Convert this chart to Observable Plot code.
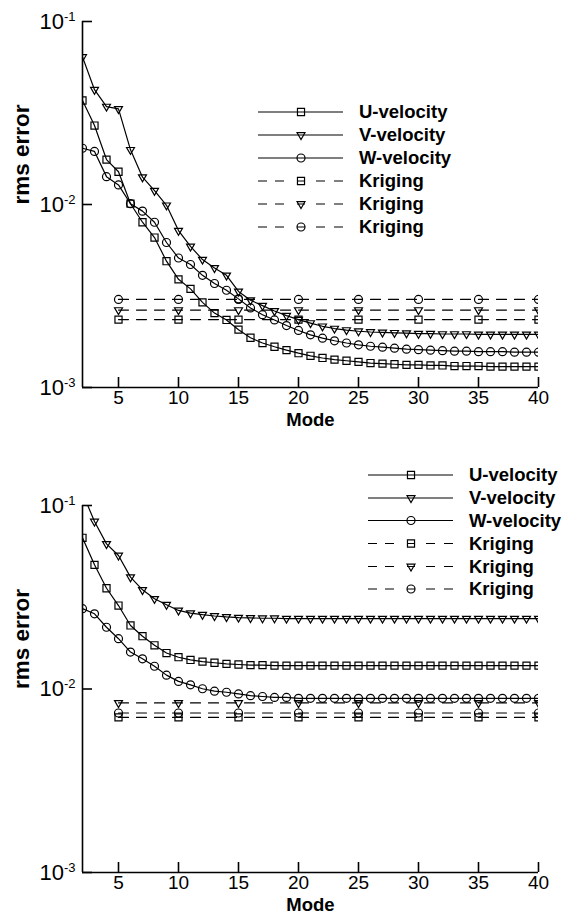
<!DOCTYPE html>
<html><head><meta charset="utf-8">
<script src="https://cdn.jsdelivr.net/npm/d3@7"></script>
<script src="https://cdn.jsdelivr.net/npm/@observablehq/plot@0.6"></script>
<style>
html,body{margin:0;padding:0;background:#fff;}
#wrap{width:564px;}
#wrap svg{display:block;}
</style></head><body><div id="wrap"></div>
<script>
// ---------- data ----------
const modes = [2,3,4,5,6,7,8,9,10,11,12,13,14,15,16,17,18,19,20,21,22,23,24,25,26,27,28,29,30,31,32,33,34,35,36,37,38,39,40];

const topU = [0.0370,0.0270,0.0176,0.0151,0.0101,0.0080,0.0066,0.0049,0.0039,0.00346,0.00292,0.00255,0.00234,0.00207,0.00187,0.00175,0.00167,0.00160,0.00154,0.00149,0.00145,0.00142,0.00140,0.00138,0.00136,0.00135,0.00134,0.00133,0.00133,0.00132,0.00132,0.00131,0.00131,0.00131,0.00130,0.00130,0.00130,0.00130,0.00130];
const topV = [0.0640,0.0424,0.0343,0.0333,0.0199,0.0141,0.0119,0.0099,0.0072,0.0059,0.0050,0.0045,0.0041,0.00335,0.00300,0.00280,0.00262,0.00247,0.00235,0.00225,0.00216,0.00210,0.00206,0.00203,0.00201,0.00200,0.00199,0.00198,0.00197,0.00197,0.00196,0.00196,0.00196,0.00195,0.00195,0.00195,0.00195,0.00195,0.00195];
const topW = [0.0203,0.0195,0.0142,0.0128,0.0101,0.0092,0.0080,0.0062,0.0051,0.0047,0.0041,0.0037,0.0034,0.00305,0.00272,0.00250,0.00234,0.00218,0.00205,0.00194,0.00186,0.00180,0.00175,0.00171,0.00168,0.00166,0.00164,0.00162,0.00161,0.00160,0.00159,0.00158,0.00158,0.00157,0.00157,0.00157,0.00156,0.00156,0.00156];
const topKriging = {U: 0.00235, V: 0.00265, W: 0.00303};

const botU = [0.0667,0.0475,0.0354,0.0285,0.0222,0.0194,0.0173,0.0157,0.0149,0.0144,0.0141,0.0139,0.0137,0.0136,0.0135,0.0135,0.0134,0.0134,0.0134,0.0134,0.0134,0.0134,0.0134,0.0134,0.0134,0.0134,0.0134,0.0134,0.0134,0.0134,0.0134,0.0134,0.0134,0.0134,0.0134,0.0134,0.0134,0.0134,0.0134];
const botV = [0.117,0.0818,0.0618,0.0534,0.0407,0.0347,0.0310,0.0288,0.0268,0.0259,0.0254,0.0250,0.0247,0.0245,0.0244,0.0243,0.0243,0.0242,0.0242,0.0242,0.0242,0.0242,0.0242,0.0242,0.0242,0.0242,0.0242,0.0242,0.0242,0.0242,0.0242,0.0242,0.0242,0.0242,0.0242,0.0242,0.0242,0.0242,0.0242];
const botW = [0.0274,0.0257,0.0217,0.0188,0.0159,0.0146,0.0133,0.0119,0.0110,0.01054,0.01003,0.00973,0.0096,0.0094,0.0092,0.0091,0.0090,0.0090,0.0089,0.0089,0.0089,0.0089,0.0089,0.0089,0.0089,0.0089,0.0089,0.0089,0.0089,0.0089,0.0089,0.0089,0.0089,0.0089,0.0089,0.0089,0.0089,0.0089,0.0089];
const botKriging = {U: 0.0070, V: 0.0084, W: 0.0074};

const krigingModes = [5,10,15,20,25,30,35,40];

const xTicks = [5,10,15,20,25,30,35,40];
const yTicks = [0.001,0.01,0.1];
const yTickExponents = ["-3","-2","-1"];

const legendLabels = ["U-velocity","V-velocity","W-velocity","Kriging","Kriging","Kriging"];
const xLabel = "Mode";
const yLabel = "rms error";

// ---------- styling ----------
const FONT = "'Liberation Sans', Arial, Helvetica, sans-serif";
const LW = 1.2;

const triangleDown = {
  draw(context, size) {
    const w = Math.sqrt(size) * 1.12;
    const h = w * Math.sqrt(3) / 2;
    context.moveTo(-w / 2, -h / 3);
    context.lineTo(w / 2, -h / 3);
    context.lineTo(0, 2 * h / 3);
    context.closePath();
  }
};
const seriesSymbols = {U: "square", V: triangleDown, W: "circle"};
const d3Symbols = {U: d3.symbolSquare, V: triangleDown, W: d3.symbolCircle};

function makeChart({U, V, W, kriging, height, marginTop, marginBottom, legendYs, legendX}) {
  const solid = {U, V, W};
  const marks = [];
  for (const key of ["U", "V", "W"]) {
    const rows = modes.map((m, i) => ({mode: m, value: solid[key][i]}));
    marks.push(Plot.line(rows, {x: "mode", y: "value", stroke: "#000", strokeWidth: LW, clip: true}));
    marks.push(Plot.dot(rows, {x: "mode", y: "value", symbol: seriesSymbols[key], r: 4, stroke: "#000", strokeWidth: LW, fill: "none", clip: true}));
  }
  for (const key of ["U", "V", "W"]) {
    const rows = krigingModes.map(m => ({mode: m, value: kriging[key]}));
    marks.push(Plot.line(rows, {x: "mode", y: "value", stroke: "#000", strokeWidth: LW, strokeDasharray: "10,8", clip: true}));
    marks.push(Plot.dot(rows, {x: "mode", y: "value", symbol: seriesSymbols[key], r: 4, stroke: "#000", strokeWidth: LW, fill: "none", clip: true}));
  }
  marks.push(
    Plot.ruleX([2], {stroke: "#000", strokeWidth: 1.6}),
    Plot.ruleY([0.001], {stroke: "#000", strokeWidth: 1.6}),
    Plot.axisY(yTicks, {tickSize: -10, fill: "none", stroke: "#000", strokeWidth: 1.6, label: null}),
    Plot.axisY(yTicks, {tickSize: 0, tickPadding: 7, fontSize: 22, fill: "#000", label: null,
      tickFormat: d => "10^" + yTickExponents[yTicks.indexOf(d)]}),
    Plot.axisX(xTicks, {tickSize: -10, fill: "none", stroke: "#000", strokeWidth: 1.6, label: null}),
    Plot.axisX(xTicks, {tickSize: 0, tickPadding: 3, fontSize: 19, fill: "#000", label: null, tickFormat: d => String(d)}),
    Plot.text([xLabel], {text: d => d, frameAnchor: "bottom", dy: 38, lineAnchor: "bottom", fontWeight: "bold", fontSize: 18.5, fill: "#000"}),
    Plot.text([yLabel], {text: d => d, frameAnchor: "left", dx: -61, rotate: -90, fontWeight: "bold", fontSize: 22.5, fill: "#000"})
  );
  const svg = Plot.plot({
    width: 564, height, marginLeft: 82, marginRight: 26, marginTop, marginBottom,
    x: {type: "linear", domain: [2, 40], label: null},
    y: {type: "log", domain: [0.001, 0.1], label: null},
    style: {fontFamily: FONT, color: "#000", background: "#fff", overflow: "visible"},
    marks
  });

  // superscript exponents on y tick labels
  d3.select(svg).selectAll('g[aria-label="y-axis tick label"] text').each(function () {
    const s = this.textContent;
    const m = s.match(/^10\^(.*)$/);
    if (!m) return;
    const t = d3.select(this);
    t.text(null);
    t.append("tspan").text("10");
    t.append("tspan").attr("dy", -8).attr("font-size", 13).text(m[1]);
  });

  // legend
  const keys = ["U", "V", "W", "U", "V", "W"];
  const g = d3.select(svg).append("g").attr("aria-label", "legend").attr("text-anchor", "start");
  const x0 = legendX, x1 = legendX + 85, xm = legendX + 43;
  legendYs.forEach((y, i) => {
    const dashed = i >= 3;
    let path;
    if (!dashed) path = `M${x0},${y}H${x1}`;
    else path = `M${x0},${y}H${x0 + 9}M${x0 + 17},${y}H${x0 + 26}M${xm - 4},${y}H${xm + 4}M${x1 - 27},${y}H${x1 - 18}M${x1 - 9},${y}H${x1}`;
    g.append("path").attr("d", path).attr("stroke", "#000").attr("stroke-width", LW).attr("fill", "none");
    g.append("path").attr("d", d3.symbol().type(d3Symbols[keys[i]]).size(50)())
      .attr("transform", `translate(${xm},${y})`).attr("stroke", "#000").attr("stroke-width", LW).attr("fill", "none");
    g.append("text").attr("x", x0 + 101).attr("y", y).attr("dy", "0.35em")
      .attr("text-anchor", "start")
      .attr("font-family", FONT).attr("font-weight", "bold").attr("font-size", 18.5).attr("fill", "#000")
      .text(legendLabels[i]);
  });
  return svg;
}

const wrap = document.getElementById("wrap");
wrap.appendChild(makeChart({U: topU, V: topV, W: topW, kriging: topKriging,
  height: 440, marginTop: 21, marginBottom: 53,
  legendYs: [112, 135, 158, 181, 204, 227], legendX: 258}));
wrap.appendChild(makeChart({U: botU, V: botV, W: botW, kriging: botKriging,
  height: 474, marginTop: 65, marginBottom: 42,
  legendYs: [35, 58, 80.5, 103.5, 126.5, 149], legendX: 368}));
</script>
</body></html>
